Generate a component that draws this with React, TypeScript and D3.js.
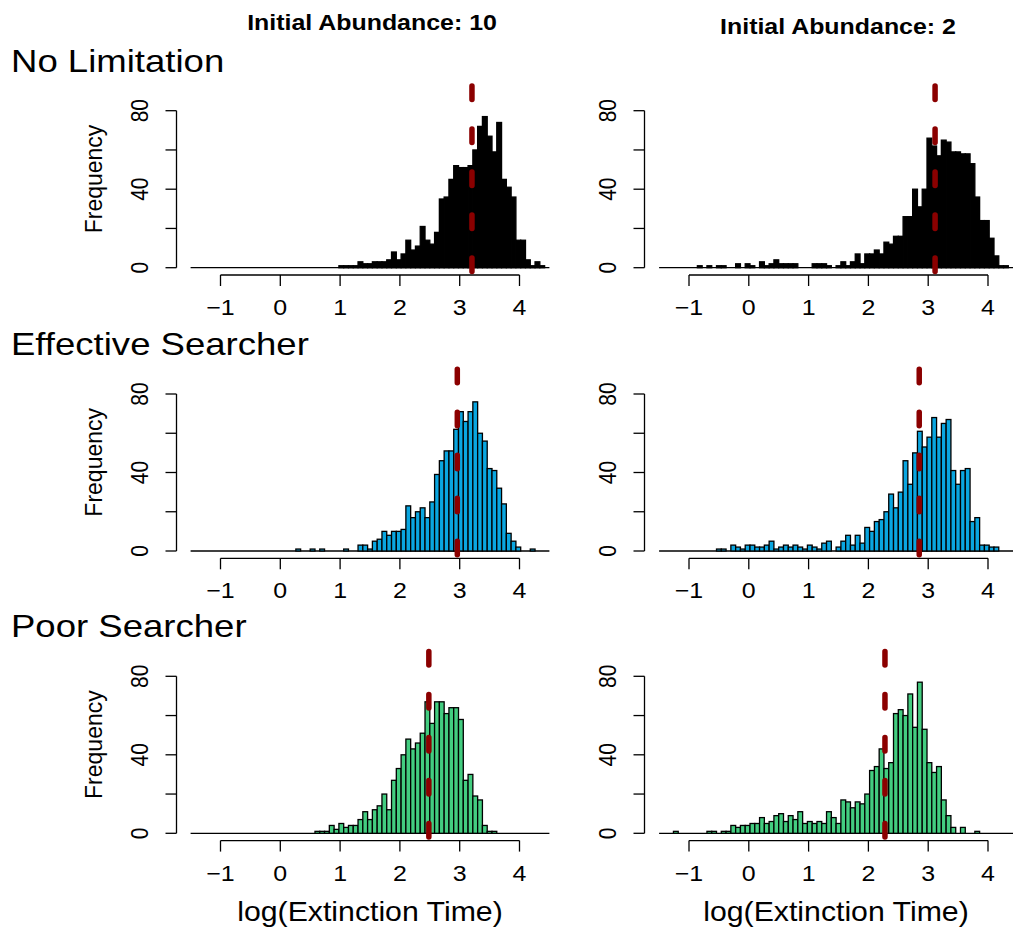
import React, { useEffect, useRef } from 'react';
import * as d3 from 'd3';

// histogram breaks: seq(-1.5, 4.5, by = 0.08)
const binStart = -1.5;
const binWidth = 0.08;
const xTicks = [-1, 0, 1, 2, 3, 4];
const yTicks = [0, 20, 40, 60, 80];
const yLabels = [0, 40, 80];

const rowTitles = ['No Limitation', 'Effective Searcher', 'Poor Searcher'];
const colTitles = ['Initial Abundance: 10', 'Initial Abundance: 2'];
const rowColors = ['#000000', '#0AA6E0', '#43CD80'];

// counts per bin (75 bins)
const noLim10 = [
  0, 0, 0, 0, 0, 0, 0, 0, 0, 0, 0, 0, 0, 0, 0, 0, 0, 0, 0, 0,
  0, 0, 0, 0, 0, 0, 0, 0, 0, 0, 0, 1, 1, 1, 1, 3, 2, 2, 3, 3,
  3, 4, 8, 4, 7, 14, 9, 11, 21, 14, 12, 18, 35, 36, 45, 52, 51, 51, 52, 60,
  72, 77, 67, 59, 74, 45, 41, 36, 14, 14, 4, 1, 3, 1, 0];
const noLim2 = [
  0, 0, 0, 0, 0, 0, 0, 0, 1, 0, 1, 0, 1, 1, 0, 0, 2, 0, 2, 1,
  0, 3, 1, 2, 4, 2, 2, 2, 2, 0, 0, 0, 2, 2, 2, 1, 0, 1, 3, 1,
  3, 7, 2, 7, 7, 9, 7, 13, 12, 16, 16, 26, 26, 40, 31, 40, 66, 62, 57, 65,
  64, 59, 59, 58, 58, 53, 36, 24, 24, 15, 6, 1, 1, 0, 0];
const eff10 = [
  0, 0, 0, 0, 0, 0, 0, 0, 0, 0, 0, 0, 0, 0, 0, 0, 0, 0, 0, 0,
  0, 0, 1, 0, 0, 1, 0, 1, 0, 0, 0, 0, 1, 0, 0, 3, 3, 1, 5, 6,
  10, 8, 10, 10, 11, 23, 17, 20, 22, 17, 25, 39, 46, 51, 51, 62, 71, 66, 71, 76,
  60, 56, 42, 41, 32, 24, 9, 5, 2, 0, 0, 1, 0, 0, 0];
const eff2 = [
  0, 0, 0, 0, 0, 0, 0, 0, 0, 0, 0, 0, 1, 1, 0, 3, 2, 1, 3, 3,
  2, 2, 3, 5, 1, 2, 3, 2, 3, 2, 1, 3, 2, 1, 4, 5, 0, 2, 5, 8,
  3, 8, 4, 12, 10, 15, 16, 20, 29, 22, 30, 46, 34, 50, 61, 53, 58, 68, 58, 65,
  67, 41, 34, 41, 42, 15, 17, 3, 3, 2, 2, 0, 0, 0, 0];
const poor10 = [
  0, 0, 0, 0, 0, 0, 0, 0, 0, 0, 0, 0, 0, 0, 0, 0, 0, 0, 0, 0,
  0, 0, 0, 0, 0, 0, 1, 1, 1, 4, 2, 5, 3, 4, 4, 7, 11, 7, 12, 14,
  20, 12, 27, 33, 40, 48, 43, 46, 51, 67, 56, 67, 67, 61, 64, 64, 58, 27, 30, 19,
  17, 4, 1, 1, 0, 0, 0, 0, 0, 0, 0, 0, 0, 0, 0];
const poor2 = [
  0, 0, 0, 1, 0, 0, 0, 0, 0, 0, 1, 1, 0, 1, 1, 4, 3, 4, 4, 5,
  5, 8, 5, 6, 9, 10, 6, 9, 7, 11, 5, 6, 5, 6, 5, 11, 8, 5, 17, 16,
  13, 16, 15, 20, 32, 34, 43, 33, 36, 61, 63, 60, 71, 54, 77, 53, 36, 31, 34, 17,
  9, 3, 0, 3, 0, 0, 1, 0, 0, 0, 0, 0, 0, 0, 0];

// red dashed reference lines (log extinction time)
const refLines = [3.205, 3.115, 2.96, 2.85, 2.484, 2.277];

const panelCounts = [noLim10, noLim2, eff10, eff2, poor10, poor2];

const App = () => {
  const d3svg = useRef<SVGSVGElement>(null);

  useEffect(() => {
    if (!d3svg.current) return;
    const svg = d3.select(d3svg.current);
    svg.selectAll('*').remove();

    const font = '"Liberation Sans", Arial, Helvetica, sans-serif';

    const text = (x: number, y: number, s: string, size: number, opts: any = {}) => {
      const sx = opts.sx ?? 1.16; // glyphs in the original are a bit wide
      svg.append('text')
        .attr('transform', `translate(${x},${y}) scale(${sx},1)` + (opts.rotate ? ' rotate(-90)' : ''))
        .attr('font-family', font)
        .attr('font-size', size)
        .attr('font-weight', opts.bold ? 'bold' : 'normal')
        .attr('text-anchor', opts.anchor || 'start')
        .attr('fill', '#000')
        .text(s);
    };

    const rowOff = [0, 283.3, 565.6];
    const colX = [[220.5, 519.5], [689, 988]];
    const yAxisX = [176.5, 644.5];
    const centerX = [370, 836];

    colTitles.forEach((t, c) => text(centerX[c] + 2, c === 0 ? 30 : 34, t, 21.5, { bold: true, anchor: 'middle' }));

    rowTitles.forEach((t, r) => {
      const base = 267.7 + rowOff[r];
      text(11, 71.7 + rowOff[r], t, 31.5, { anchor: 'start' });

      [0, 1].forEach(c => {
        const counts = panelCounts[r * 2 + c];
        const x = d3.scaleLinear().domain([-1, 4]).range(colX[c]);
        const y = d3.scaleLinear().domain([0, 80]).range([base, base - 157]);
        const axisY = base + 7.3;
        const g = svg.append('g');

        // zero-count bins draw as a flat line along the baseline
        g.append('line')
          .attr('x1', x(binStart)).attr('x2', x(binStart + binWidth * counts.length))
          .attr('y1', base).attr('y2', base)
          .attr('stroke', '#000').attr('stroke-width', 1.3);

        g.selectAll('.bar')
          .data(counts.map((n, i) => ({ n, x0: binStart + i * binWidth })).filter(d => d.n > 0))
          .enter().append('rect')
          .attr('class', 'bar')
          .attr('x', d => x(d.x0))
          .attr('width', d => x(d.x0 + binWidth) - x(d.x0))
          .attr('y', d => y(d.n))
          .attr('height', d => base - y(d.n))
          .attr('fill', rowColors[r])
          .attr('stroke', '#000')
          .attr('stroke-width', 1.3);

        // x axis
        g.append('line')
          .attr('x1', x(-1)).attr('x2', x(4)).attr('y1', axisY).attr('y2', axisY)
          .attr('stroke', '#000').attr('stroke-width', 1.3);
        xTicks.forEach(t => {
          g.append('line')
            .attr('x1', x(t)).attr('x2', x(t)).attr('y1', axisY).attr('y2', axisY + 11)
            .attr('stroke', '#000').attr('stroke-width', 1.3);
          text(x(t), axisY + 40, t < 0 ? '\u2212' + Math.abs(t) : String(t), 21.5, { anchor: 'middle' });
        });

        // y axis
        const ax = yAxisX[c];
        g.append('line')
          .attr('x1', ax).attr('x2', ax).attr('y1', y(0)).attr('y2', y(80))
          .attr('stroke', '#000').attr('stroke-width', 1.3);
        yTicks.forEach(t => {
          g.append('line')
            .attr('x1', ax - 11).attr('x2', ax).attr('y1', y(t)).attr('y2', y(t))
            .attr('stroke', '#000').attr('stroke-width', 1.3);
        });
        yLabels.forEach(t => text(ax - 28.5, y(t), String(t), 21, { anchor: 'middle', rotate: true }));
        if (c === 0) text(ax - 75, 179 + rowOff[r], 'Frequency', 23, { anchor: 'middle', rotate: true, sx: 1 });

        // dashed reference line
        const xv = x(refLines[r * 2 + c]);
        g.append('line')
          .attr('x1', xv).attr('x2', xv)
          .attr('y1', 86 + rowOff[r]).attr('y2', axisY)
          .attr('stroke', '#8B0000').attr('stroke-width', 5.5)
          .attr('stroke-linecap', 'round')
          .attr('stroke-dasharray', '13.5 29.5');

        if (r === 2) text(centerX[c], 921, 'log(Extinction Time)', 27.5, { anchor: 'middle', sx: 1.1 });
      });
    });
  }, []);

  return (
    <svg ref={d3svg} width={1013} height={930}
      style={{ position: 'absolute', left: 0, top: 0, background: '#fff' }}></svg>
  );
};

export default App;
